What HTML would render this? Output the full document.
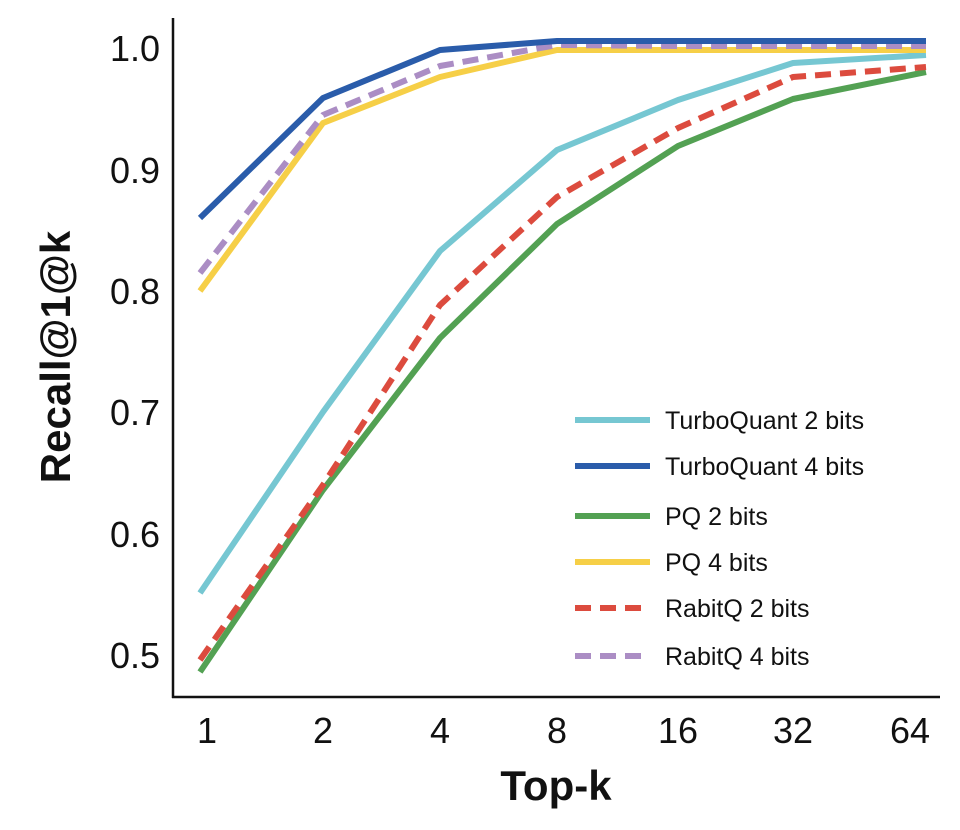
<!DOCTYPE html>
<html><head><style>
html,body{margin:0;padding:0;background:#fff;}
svg text{font-family:"Liberation Sans",sans-serif;fill:#111;}
</style></head><body>
<svg width="960" height="825" viewBox="0 0 960 825" xmlns="http://www.w3.org/2000/svg">
<g stroke="#111" stroke-width="2.5" fill="none">
<line x1="173" y1="18" x2="173" y2="698"/>
<line x1="172" y1="697" x2="940" y2="697"/>
</g>
<g font-size="36" text-anchor="end">
<text x="160" y="61">1.0</text>
<text x="160" y="183">0.9</text>
<text x="160" y="304">0.8</text>
<text x="160" y="425">0.7</text>
<text x="160" y="547">0.6</text>
<text x="160" y="668">0.5</text>
</g>
<g font-size="36" text-anchor="middle">
<text x="207" y="743">1</text>
<text x="323" y="743">2</text>
<text x="440" y="743">4</text>
<text x="557" y="743">8</text>
<text x="678" y="743">16</text>
<text x="793" y="743">32</text>
<text x="910" y="743">64</text>
</g>
<text x="556" y="800" font-size="42" font-weight="bold" text-anchor="middle">Top-k</text>
<text transform="translate(70,357) rotate(-90)" font-size="42" font-weight="bold" text-anchor="middle">Recall@1@k</text>
<g fill="none" stroke-width="6" stroke-linejoin="round">
<polyline stroke="#53a153" points="200,672 323,490 440,338 557,224 678,146 793,99 926,72"/>
<polyline stroke="#dc4b3e" stroke-dasharray="16,9" points="200,660 323,485 440,305 557,197 678,128 793,77 926,67"/>
<polyline stroke="#76c7d2" points="200,593 323,412 440,251 557,150 678,100 793,63 926,55"/>
<polyline stroke="#f6cf47" points="200,291 323,123 440,77 557,50 678,50 793,50 926,50"/>
<polyline stroke="#ab8dc4" stroke-dasharray="16,9" points="200,273 323,115 440,66 557,45 678,46 793,46 926,46"/>
<polyline stroke="#2a5caa" points="200,218 323,98 440,50 557,41 678,41 793,41 926,41"/>
</g>
<g stroke-width="6">
<line x1="575" y1="420" x2="650" y2="420" stroke="#76c7d2"/>
<line x1="575" y1="466" x2="650" y2="466" stroke="#2a5caa"/>
<line x1="575" y1="516" x2="650" y2="516" stroke="#53a153"/>
<line x1="575" y1="562" x2="650" y2="562" stroke="#f6cf47"/>
<line x1="575" y1="608" x2="650" y2="608" stroke="#dc4b3e" stroke-dasharray="16,9"/>
<line x1="575" y1="656" x2="650" y2="656" stroke="#ab8dc4" stroke-dasharray="16,9"/>
</g>
<g font-size="25">
<text x="665" y="429">TurboQuant 2 bits</text>
<text x="665" y="475">TurboQuant 4 bits</text>
<text x="665" y="525">PQ 2 bits</text>
<text x="665" y="571">PQ 4 bits</text>
<text x="665" y="617">RabitQ 2 bits</text>
<text x="665" y="665">RabitQ 4 bits</text>
</g>
</svg>
</body></html>
